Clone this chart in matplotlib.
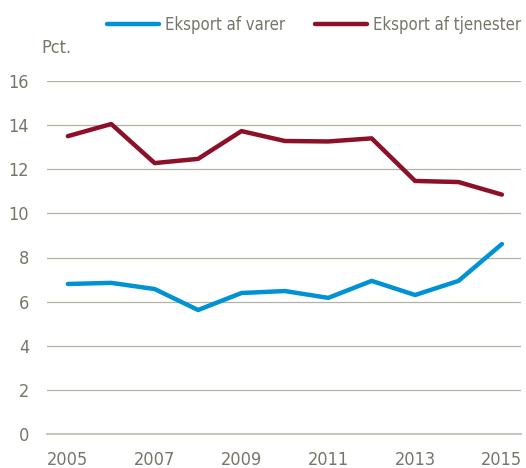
import matplotlib.pyplot as plt
from matplotlib import font_manager

years = list(range(2005, 2016))
varer = [6.80, 6.85, 6.57, 5.62, 6.39, 6.48, 6.17, 6.94, 6.30, 6.94, 8.61]
tjenester = [13.50, 14.05, 12.28, 12.47, 13.73, 13.28, 13.26, 13.40, 11.47, 11.42, 10.85]
yticks = [0, 2, 4, 6, 8, 10, 12, 14, 16]
xticks = [2005, 2007, 2009, 2011, 2013, 2015]

# look for a narrow font, like the reference uses
fonts = font_manager.fontManager.ttflist
names = {f.name for f in fonts}
stretch = 'normal'
narrow = True
if 'Liberation Sans Narrow' in names:
    fam = 'Liberation Sans Narrow'
elif 'DejaVu Sans Condensed' in names:
    fam = 'DejaVu Sans Condensed'
elif any(f.name == 'DejaVu Sans' and f.stretch == 'condensed' for f in fonts):
    fam = 'DejaVu Sans'
    stretch = 'condensed'
else:
    fam = 'Liberation Sans'
    narrow = False
plt.rcParams['font.family'] = [fam, 'DejaVu Sans']
plt.rcParams['font.stretch'] = stretch
fs = 12 if narrow else 11
tfs = 13 if narrow else 12

txt = '#77756a'
grid = '#b3b1a4'
blue = '#0092d4'
red = '#8c1028'

fig = plt.figure(figsize=(5.26, 4.68), dpi=100)
ax = fig.add_axes([47 / 526, 34 / 468, 474 / 526, 353 / 468])

line1, = ax.plot(years, varer, color=blue, lw=3.2, solid_capstyle='round', label='Eksport af varer')
line2, = ax.plot(years, tjenester, color=red, lw=3.2, solid_capstyle='round', label='Eksport af tjenester')

ax.set_xlim(2004.52, 2015.44)
ax.set_ylim(0, 16)
ax.set_yticks(yticks)
ax.set_xticks(xticks)
ax.yaxis.grid(True, color=grid, lw=0.9)
ax.set_axisbelow(True)
for s in ['top', 'right', 'left']:
    ax.spines[s].set_visible(False)
ax.spines['bottom'].set_color('#c8c6bc')
ax.spines['bottom'].set_linewidth(1.5)
ax.tick_params(axis='both', length=0, colors=txt, labelsize=tfs)
ax.tick_params(axis='y', pad=13)
ax.tick_params(axis='x', pad=12)

fig.text(41 / 526, 1 - 48 / 468, 'Pct.', color=txt, fontsize=tfs, va='center')

leg = fig.legend(handles=[line1, line2], loc='center right', bbox_to_anchor=(521 / 526, 1 - 25 / 468),
                 ncol=2, frameon=False, fontsize=fs, handlelength=3.1, handletextpad=0.36,
                 columnspacing=1.8, labelcolor=txt, borderaxespad=0, borderpad=0)

fig.savefig('out.png', dpi=100)
